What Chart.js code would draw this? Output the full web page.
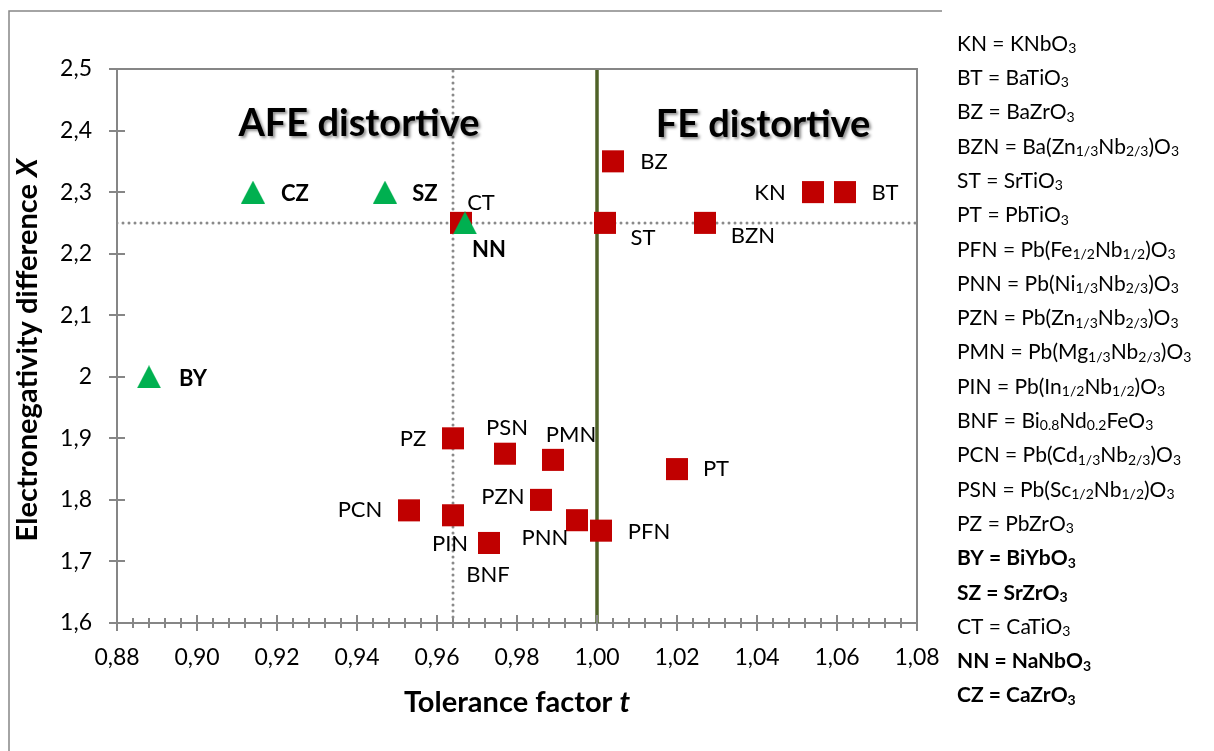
<!DOCTYPE html>
<html>
<head>
<meta charset="utf-8">
<title>Tolerance factor vs electronegativity difference</title>
<script src="https://cdn.jsdelivr.net/npm/chart.js@4.4.1/dist/chart.umd.min.js"></script>
<style>
  html, body { margin: 0; padding: 0; background: #ffffff; }
  #wrap { width: 1214px; height: 751px; position: relative; }
  canvas { display: block; }
</style>
</head>
<body>
<div id="wrap"><canvas id="chart" width="1214" height="751"></canvas></div>
<script>
// Perovskites that adopt a ferroelectric / non-polar structure (red squares)
const redNames = ['KN', 'BT', 'BZ', 'BZN', 'ST', 'PT', 'PFN', 'PNN', 'PZN', 'PMN', 'PIN', 'BNF', 'PCN', 'PSN', 'PZ', 'CT'];
const redT     = [1.054, 1.062, 1.004, 1.027, 1.002, 1.020, 1.001, 0.995, 0.986, 0.989, 0.964, 0.973, 0.953, 0.977, 0.964, 0.966];
const redX     = [2.30, 2.30, 2.35, 2.25, 2.25, 1.85, 1.75, 1.767, 1.80, 1.865, 1.775, 1.73, 1.783, 1.875, 1.90, 2.25];

// Antiferroelectric-type compounds (green triangles)
const greenNames = ['BY', 'SZ', 'NN', 'CZ'];
const greenT     = [0.888, 0.947, 0.967, 0.914];
const greenX     = [2.00, 2.30, 2.25, 2.30];

// Reference lines
const tBoundary = 0.964;   // dotted vertical
const xBoundary = 2.25;    // dotted horizontal
const tFerro    = 1.00;    // solid green line

// Axes
const xTickValues = [0.88, 0.90, 0.92, 0.94, 0.96, 0.98, 1.00, 1.02, 1.04, 1.06, 1.08];
const xTickLabels = ['0,88', '0,90', '0,92', '0,94', '0,96', '0,98', '1,00', '1,02', '1,04', '1,06', '1,08'];
const yTickValues = [1.6, 1.7, 1.8, 1.9, 2.0, 2.1, 2.2, 2.3, 2.4, 2.5];
const yTickLabels = ['1,6', '1,7', '1,8', '1,9', '2', '2,1', '2,2', '2,3', '2,4', '2,5'];
const xMinorStep = 0.004;

// Key on the right: abbreviation, formula (_x / _{..} = subscript), bold flag
const keyAbbr = ['KN', 'BT', 'BZ', 'BZN', 'ST', 'PT', 'PFN', 'PNN', 'PZN', 'PMN', 'PIN', 'BNF', 'PCN', 'PSN', 'PZ', 'BY', 'SZ', 'CT', 'NN', 'CZ'];
const keyFormula = ['KNbO_3', 'BaTiO_3', 'BaZrO_3', 'Ba(Zn_{1/3}Nb_{2/3})O_3', 'SrTiO_3', 'PbTiO_3',
  'Pb(Fe_{1/2}Nb_{1/2})O_3', 'Pb(Ni_{1/3}Nb_{2/3})O_3', 'Pb(Zn_{1/3}Nb_{2/3})O_3', 'Pb(Mg_{1/3}Nb_{2/3})O_3',
  'Pb(In_{1/2}Nb_{1/2})O_3', 'Bi_{0.8}Nd_{0.2}FeO_3', 'Pb(Cd_{1/3}Nb_{2/3})O_3', 'Pb(Sc_{1/2}Nb_{1/2})O_3',
  'PbZrO_3', 'BiYbO_3', 'SrZrO_3', 'CaTiO_3', 'NaNbO_3', 'CaZrO_3'];
const keyBold = ['BY', 'SZ', 'NN', 'CZ'];

// Where each point's tag sits relative to its marker (px)
const labelShift = {
  KN: [-43, 1], BT: [40, 1], BZ: [41, 1], BZN: [48, 13], ST: [38, 15], PT: [39, 0],
  PFN: [48, 1], PNN: [-32, 18], PZN: [-38, -3], PMN: [18, -25], PIN: [-3, 29], BNF: [-1, 32],
  PCN: [-49, 0], PSN: [2, -26], PZ: [-40, 1], CT: [20, -20],
  BY: [44, 2], SZ: [40, 2], NN: [24, 27], CZ: [42, 2]
};

const FONT = 'Lato';
const GRID_GREY = '#868686';

// Triangle marker centred on its bounding box
function makeTriangle(w, h, color) {
  const c = document.createElement('canvas');
  c.width = w; c.height = h;
  const g = c.getContext('2d');
  g.fillStyle = color;
  g.beginPath();
  g.moveTo(w / 2, 0);
  g.lineTo(w, h);
  g.lineTo(0, h);
  g.closePath();
  g.fill();
  return c;
}

function toPoints(ts, xs) { return ts.map((t, i) => ({ x: t, y: xs[i] })); }

function drawFormula(ctx, text, x, y, size, bold) {
  const weight = bold ? 'bold ' : '';
  const subSize = Math.round(size * 0.66);
  let i = 0, cx = x;
  while (i < text.length) {
    if (text[i] === '_') {
      let sub;
      if (text[i + 1] === '{') {
        const end = text.indexOf('}', i);
        sub = text.slice(i + 2, end);
        i = end + 1;
      } else {
        sub = text[i + 1];
        i += 2;
      }
      ctx.font = weight + subSize + 'px ' + FONT;
      ctx.fillText(sub, cx, y + size * 0.22);
      cx += ctx.measureText(sub).width;
    } else {
      let j = i;
      while (j < text.length && text[j] !== '_') j++;
      const run = text.slice(i, j);
      ctx.font = weight + size + 'px ' + FONT;
      ctx.fillText(run, cx, y);
      cx += ctx.measureText(run).width;
      i = j;
    }
  }
}

const decorations = {
  id: 'decorations',
  beforeDraw(chart) {
    const ctx = chart.ctx;
    ctx.save();
    ctx.fillStyle = '#ffffff';
    ctx.fillRect(0, 0, chart.width, chart.height);
    // outer frame
    ctx.strokeStyle = GRID_GREY;
    ctx.lineWidth = 1.5;
    ctx.beginPath();
    ctx.moveTo(9, 751);
    ctx.lineTo(9, 11);
    ctx.lineTo(942, 11);
    ctx.stroke();
    ctx.restore();
  },
  afterDatasetsDraw(chart) {
    const ctx = chart.ctx;
    const a = chart.chartArea;
    const xs = chart.scales.x, ys = chart.scales.y;
    ctx.save();
    // plot area border (top and right)
    ctx.strokeStyle = GRID_GREY;
    ctx.lineWidth = 2;
    ctx.beginPath();
    ctx.moveTo(a.left, a.top);
    ctx.lineTo(a.right, a.top);
    ctx.lineTo(a.right, a.bottom);
    ctx.stroke();
    // axis tick marks crossing the axes
    ctx.beginPath();
    yTickValues.forEach(v => {
      const py = Math.round(ys.getPixelForValue(v));
      ctx.moveTo(a.left - 8, py);
      ctx.lineTo(a.left + 8, py);
    });
    const nMinor = Math.round((xs.max - xs.min) / xMinorStep);
    for (let k = 0; k <= nMinor; k++) {
      const v = xs.min + k * xMinorStep;
      const px = Math.round(xs.getPixelForValue(v));
      const major = k % 5 === 0;
      ctx.moveTo(px, a.bottom - (major ? 8 : 5));
      ctx.lineTo(px, a.bottom + (major ? 8 : 5));
    }
    ctx.stroke();

    // point tags
    ctx.fillStyle = '#000000';
    ctx.textAlign = 'center';
    ctx.textBaseline = 'middle';
    const tag = (dsIndex, names, bold) => {
      const meta = chart.getDatasetMeta(dsIndex);
      ctx.font = (bold ? 'bold ' : '') + '22px ' + FONT;
      names.forEach((n, i) => {
        const el = meta.data[i];
        const s = labelShift[n] || [30, 0];
        ctx.fillText(n, el.x + s[0], el.y + s[1]);
      });
    };
    tag(0, greenNames, true);
    tag(1, redNames, false);

    // region captions with soft shadow
    ctx.save();
    ctx.font = 'bold 38px ' + FONT;
    ctx.shadowColor = 'rgba(0,0,0,0.45)';
    ctx.shadowOffsetX = 2;
    ctx.shadowOffsetY = 2;
    ctx.shadowBlur = 3;
    ctx.fillText('AFE distortive', 359, 124);
    ctx.fillText('FE distortive', 763, 125);
    ctx.restore();
    ctx.restore();
  },
  afterDraw(chart) {
    const ctx = chart.ctx;
    const a = chart.chartArea;
    ctx.save();
    ctx.fillStyle = '#000000';
    ctx.textBaseline = 'alphabetic';
    // x axis title
    const size = 29;
    ctx.font = 'bold ' + size + 'px ' + FONT;
    const p1 = 'Tolerance factor ';
    const w1 = ctx.measureText(p1).width;
    ctx.font = 'bold italic ' + size + 'px ' + FONT;
    const w2 = ctx.measureText('t').width;
    let x0 = (a.left + a.right) / 2 - (w1 + w2) / 2;
    ctx.textAlign = 'left';
    ctx.font = 'bold ' + size + 'px ' + FONT;
    ctx.fillText(p1, x0, 712);
    ctx.font = 'bold italic ' + size + 'px ' + FONT;
    ctx.fillText('t', x0 + w1, 712);

    // y axis title (rotated)
    ctx.save();
    ctx.translate(37, (a.top + a.bottom) / 2 + 4);
    ctx.rotate(-Math.PI / 2);
    ctx.font = 'bold ' + size + 'px ' + FONT;
    const q1 = 'Electronegativity difference ';
    const v1 = ctx.measureText(q1).width;
    ctx.font = 'bold italic ' + size + 'px ' + FONT;
    const v2 = ctx.measureText('X').width;
    const y0 = -(v1 + v2) / 2;
    ctx.font = 'bold ' + size + 'px ' + FONT;
    ctx.fillText(q1, y0, 0);
    ctx.font = 'bold italic ' + size + 'px ' + FONT;
    ctx.fillText('X', y0 + v1, 0);
    ctx.restore();

    // key
    ctx.textBaseline = 'middle';
    ctx.textAlign = 'left';
    keyAbbr.forEach((ab, i) => {
      const bold = keyBold.includes(ab);
      const y = 44 + i * 34.3;
      drawFormula(ctx, ab + ' = ' + keyFormula[i], 957, y, 21, bold);
    });
    ctx.restore();
  }
};

const ctx = document.getElementById('chart').getContext('2d');
new Chart(ctx, {
  type: 'scatter',
  data: {
    datasets: [
      {
        label: 'AFE',
        data: toPoints(greenT, greenX),
        pointStyle: makeTriangle(24, 23, '#00b050'),
        pointRadius: 12,
        order: 0
      },
      {
        label: 'FE',
        data: toPoints(redT, redX),
        pointStyle: 'rect',
        pointRadius: 15.6,
        backgroundColor: '#c00000',
        borderColor: '#c00000',
        borderWidth: 0,
        order: 1
      },
      {
        type: 'line',
        label: 'dotted t',
        data: [{ x: tBoundary, y: 1.6 }, { x: tBoundary, y: 2.5 }],
        borderColor: '#8a8a8a',
        borderWidth: 3,
        borderDash: [0, 6],
        borderCapStyle: 'round',
        pointRadius: 0,
        order: 3
      },
      {
        type: 'line',
        label: 'dotted X',
        data: [{ x: 0.88, y: xBoundary }, { x: 1.08, y: xBoundary }],
        borderColor: '#8a8a8a',
        borderWidth: 3,
        borderDash: [0, 6],
        borderCapStyle: 'round',
        pointRadius: 0,
        order: 3
      },
      {
        type: 'line',
        label: 't = 1',
        data: [{ x: tFerro, y: 1.6 }, { x: tFerro, y: 2.5 }],
        borderColor: '#4f6228',
        borderWidth: 3.5,
        pointRadius: 0,
        order: 2
      }
    ]
  },
  options: {
    responsive: false,
    animation: false,
    events: [],
    devicePixelRatio: 1,
    layout: { padding: { left: 0, top: 69, right: 297, bottom: 0 } },
    plugins: { legend: { display: false }, tooltip: { enabled: false } },
    scales: {
      x: {
        type: 'linear',
        min: 0.88,
        max: 1.08,
        afterFit(scale) { scale.height = 128; },
        afterBuildTicks(scale) { scale.ticks = xTickValues.map(v => ({ value: v })); },
        grid: { display: false, drawTicks: false, tickLength: 0 },
        border: { display: true, color: GRID_GREY, width: 2 },
        ticks: {
          autoSkip: false,
          maxRotation: 0,
          padding: 21,
          color: '#000000',
          font: { family: FONT, size: 23 },
          callback: (v, i) => xTickLabels[i]
        }
      },
      y: {
        type: 'linear',
        min: 1.6,
        max: 2.5,
        afterFit(scale) { scale.width = 117; },
        afterBuildTicks(scale) { scale.ticks = yTickValues.map(v => ({ value: v })); },
        grid: { display: false, drawTicks: false, tickLength: 0 },
        border: { display: true, color: GRID_GREY, width: 2 },
        ticks: {
          autoSkip: false,
          padding: 25,
          color: '#000000',
          font: { family: FONT, size: 23 },
          callback: (v, i) => yTickLabels[i]
        }
      }
    }
  },
  plugins: [decorations]
});
</script>
</body>
</html>
